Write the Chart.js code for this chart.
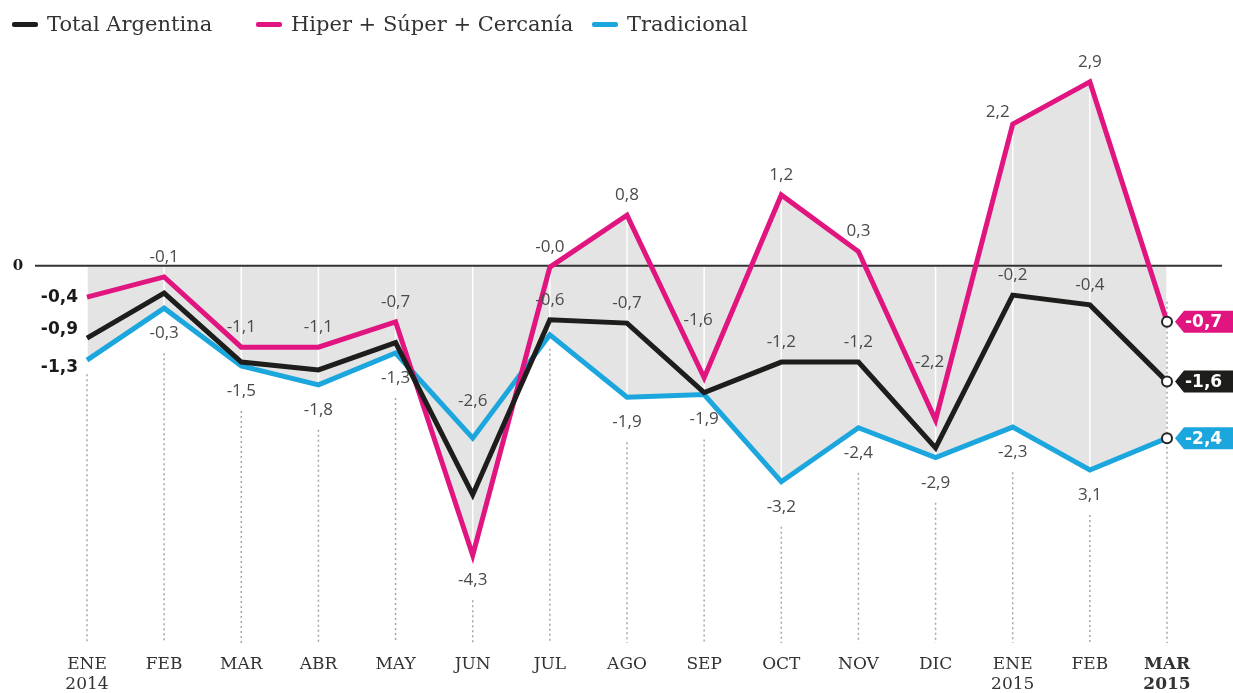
<!DOCTYPE html>
<html>
<head>
<meta charset="utf-8">
<script src="https://cdn.jsdelivr.net/npm/chart.js@4.4.1/dist/chart.umd.min.js"></script>
<style>
  body { margin: 0; background: #fff; }
  #wrap { position: relative; width: 1233px; height: 693px; }
  #legend { position: absolute; top: 12px; left: 0; width: 1233px; height: 28px; font: 21px "DejaVu Serif"; color: #333; }
  #legend .item { position: absolute; top: 0; display: flex; align-items: center; white-space: nowrap; }
  #legend .swatch { width: 26px; height: 5px; border-radius: 2px; margin-right: 9px; }
</style>
</head>
<body>
<div id="wrap">
  <canvas id="chart" width="1233" height="693"></canvas>
  <div id="legend"></div>
</div>
<script>
// months
const months = [["ENE", "2014"], "FEB", "MAR", "ABR", "MAY", "JUN", "JUL", "AGO", "SEP", "OCT", "NOV", "DIC", ["ENE", "2015"], "FEB", ["MAR", "2015"]];

// values (position of each line)
const total = [-1.11, -0.42, -1.48, -1.6, -1.18, -3.52, -0.83, -0.88, -1.95, -1.48, -1.48, -2.8, -0.45, -0.6, -1.78];
const hiper = [-0.48, -0.17, -1.25, -1.25, -0.86, -4.45, -0.02, 0.78, -1.72, 1.09, 0.22, -2.37, 2.18, 2.83, -0.86];
const trad = [-1.45, -0.65, -1.54, -1.83, -1.34, -2.65, -1.06, -2.02, -1.98, -3.32, -2.49, -2.95, -2.48, -3.14, -2.65];

// printed value labels
const totalLabels = ["-0,9", null, null, null, null, null, "-0,6", "-0,7", null, "-1,2", "-1,2", null, "-0,2", "-0,4", "-1,6"];
const hiperLabels = ["-0,4", "-0,1", "-1,1", "-1,1", "-0,7", "-4,3", "-0,0", "0,8", "-1,6", "1,2", "0,3", "-2,2", "2,2", "2,9", "-0,7"];
const tradLabels = ["-1,3", "-0,3", "-1,5", "-1,8", "-1,3", "-2,6", null, "-1,9", "-1,9", "-3,2", "-2,4", "-2,9", "-2,3", "3,1", "-2,4"];

// where each label sits: L left column, T end tag, a above, b below, A high above, v inside a V, l up-left
const totalPos = ["L", "", "", "", "", "", "a", "a", "", "a", "a", "", "a", "a", "T"];
const hiperPos = ["L", "a", "a", "a", "a", "b", "a", "a", "v", "a", "a", "v", "l", "a", "T"];
const tradPos = ["L", "b", "b", "b", "b", "A", "", "b", "b", "b", "b", "b", "b", "b", "T"];

const offsets = { a: [0, -20], b: [0, 25], A: [0, -37], v: [-6, -58], l: [-15, -12] };
const GRAY = "#e4e4e4";

const series = [
  { name: "Total Argentina", data: total, color: "#1d1d1b", labels: totalLabels, pos: totalPos, ldy: -8, legendX: 12 },
  { name: "Hiper + Súper + Cercanía", data: hiper, color: "#e0157f", labels: hiperLabels, pos: hiperPos, ldy: 0, legendX: 256 },
  { name: "Tradicional", data: trad, color: "#1ba6de", labels: tradLabels, pos: tradPos, ldy: 7, legendX: 592 },
];

// html legend
const legendEl = document.getElementById("legend");
series.forEach(s => {
  legendEl.innerHTML += `<div class="item" style="left:${s.legendX}px"><span class="swatch" style="background:${s.color}"></span>${s.name}</div>`;
});

function line(ctx, x1, y1, x2, y2) {
  ctx.beginPath();
  ctx.moveTo(x1, y1);
  ctx.lineTo(x2, y2);
  ctx.stroke();
}

const deco = {
  id: "deco",
  beforeDatasetsDraw(chart) {
    const { ctx, chartArea: a, scales: { x, y } } = chart;
    ctx.save();
    // white separators inside the gray area
    ctx.strokeStyle = "#fff";
    ctx.lineWidth = 1.5;
    months.forEach((m, i) => {
      const px = x.getPixelForValue(i);
      line(ctx, px, a.top, px, a.bottom);
    });
    // dotted guides down to the month names
    ctx.strokeStyle = "#a5a5a5";
    ctx.lineWidth = 1.5;
    ctx.setLineDash([2, 3]);
    months.forEach((m, i) => {
      const px = x.getPixelForValue(i);
      let low = series[0];
      series.forEach(s => { if (s.data[i] < low.data[i]) low = s; });
      let start = y.getPixelForValue(low.data[i]) + (low.pos[i] === "b" ? 45 : 14);
      if (i === months.length - 1) start = y.getPixelForValue(hiper[i]) - 20;
      line(ctx, px, start, px, a.bottom);
    });
    ctx.setLineDash([]);
    // zero line
    const y0 = y.getPixelForValue(0);
    ctx.strokeStyle = "#333";
    ctx.lineWidth = 2;
    line(ctx, 35, y0, 1222, y0);
    ctx.fillStyle = "#1a1a1a";
    ctx.font = 'bold 15px "DejaVu Serif"';
    ctx.textAlign = "center";
    ctx.textBaseline = "middle";
    ctx.fillText("0", 18, y0);
    ctx.restore();
  },
  afterDatasetsDraw(chart) {
    const { ctx, scales: { x, y } } = chart;
    ctx.save();
    ctx.textBaseline = "middle";
    series.forEach(s => {
      s.labels.forEach((t, i) => {
        if (!t) return;
        const px = x.getPixelForValue(i);
        const py = y.getPixelForValue(s.data[i]);
        const p = s.pos[i];
        if (p === "L") {
          ctx.font = 'bold 17px "DejaVu Sans"';
          ctx.fillStyle = "#1a1a1a";
          ctx.textAlign = "right";
          ctx.fillText(t, 78, py + s.ldy);
        } else if (p === "T") {
          const tx = px + 8;
          ctx.fillStyle = s.color;
          ctx.beginPath();
          ctx.moveTo(tx, py);
          ctx.lineTo(tx + 9, py - 11);
          ctx.lineTo(1233, py - 11);
          ctx.lineTo(1233, py + 11);
          ctx.lineTo(tx + 9, py + 11);
          ctx.closePath();
          ctx.fill();
          ctx.font = 'bold 17px "DejaVu Sans"';
          ctx.fillStyle = "#fff";
          ctx.textAlign = "left";
          ctx.fillText(t, tx + 10, py + 1);
        } else {
          const [dx, dy] = offsets[p];
          ctx.font = '17px "Open Sans"';
          ctx.fillStyle = "#4a4a4a";
          ctx.textAlign = "center";
          ctx.fillText(t, px + dx, py + dy);
        }
      });
    });
    ctx.restore();
  },
};

new Chart(document.getElementById("chart"), {
  type: "line",
  plugins: [deco],
  data: {
    labels: months,
    datasets: series.map(s => ({
      label: s.name,
      data: s.data,
      borderColor: s.color,
      backgroundColor: s.color,
      borderWidth: 5,
      borderJoinStyle: "miter",
      tension: 0,
      fill: { target: "origin", above: GRAY, below: GRAY },
      pointRadius: ctx => (ctx.dataIndex === months.length - 1 ? 5 : 0),
      pointBackgroundColor: "#fff",
      pointBorderColor: "#222",
      pointBorderWidth: 2,
    })),
  },
  options: {
    responsive: false,
    animation: false,
    events: [],
    layout: { padding: { top: 50, right: 66, bottom: 0, left: 0 } },
    plugins: {
      legend: { display: false },
      tooltip: { enabled: false },
      filler: { drawTime: "beforeDatasetsDraw" },
    },
    scales: {
      x: {
        offset: false,
        grid: { display: false, drawTicks: false },
        border: { display: false },
        ticks: {
          padding: 12,
          maxRotation: 0,
          autoSkip: false,
          color: "#333",
          font: ctx => ({ family: "DejaVu Serif", size: 17, weight: ctx.index === months.length - 1 ? "bold" : "normal", lineHeight: 1.15 }),
        },
        afterFit(scale) { scale.height = 50; },
      },
      y: {
        min: -5.8,
        max: 3.32,
        grid: { display: false },
        border: { display: false },
        ticks: { display: false },
        afterFit(scale) { scale.width = 87; },
      },
    },
  },
});
</script>
</body>
</html>
